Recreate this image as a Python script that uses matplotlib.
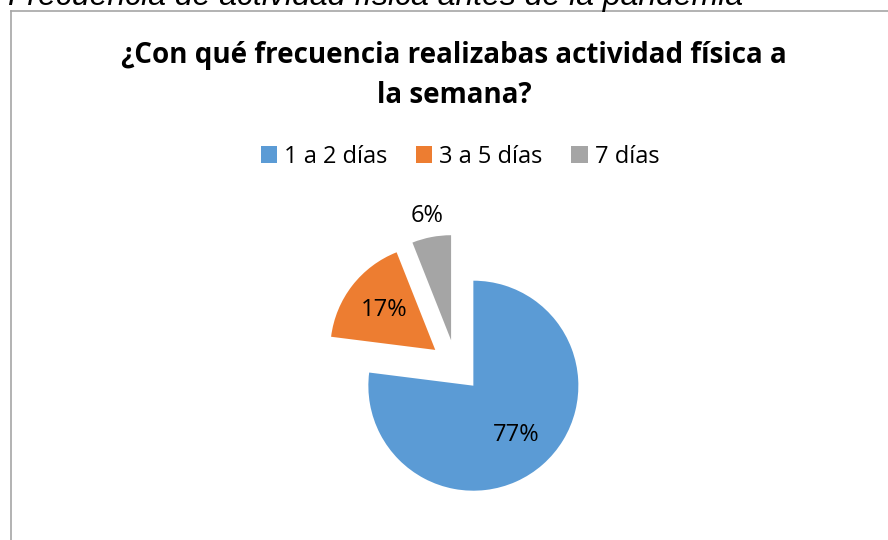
import numpy as np
import matplotlib
matplotlib.use('Agg')
import matplotlib.pyplot as plt
from matplotlib.lines import Line2D

# data
categories = ['1 a 2 días', '3 a 5 días', '7 días']
values = [77, 17, 6]
colors = ['#5B9BD5', '#ED7D31', '#A5A5A5']
title_lines = ['¿Con qué frecuencia realizabas actividad física a', 'la semana?']
caption = 'Frecuencia de actividad física antes de la pandemia'

W, H = 888, 540
FONT = 'Open Sans'
fig = plt.figure(figsize=(W / 100, H / 100), dpi=100)

# chart frame (runs off the right and bottom edges)
fig.add_artist(Line2D([10.5 / W, 1.0], [1 - 11 / H, 1 - 11 / H], color='#a6a6a6', lw=1.2))
fig.add_artist(Line2D([10.5 / W, 10.5 / W], [0.0, 1 - 11 / H], color='#a6a6a6', lw=1.2))

# caption above the chart, mostly cut off by the top edge
fig.text(8 / W, 1 - 4.5 / H, caption, fontsize=23, style='italic',
         family='Liberation Sans', ha='left', va='baseline', color='black')

fig.text(454 / W, 1 - 63 / H, title_lines[0], fontsize=20, fontweight='bold', family=FONT,
         ha='center', va='baseline', color='black')
fig.text(454 / W, 1 - 103 / H, title_lines[1], fontsize=20, fontweight='bold', family=FONT,
         ha='center', va='baseline', color='black')

# pie: centre at (456, 366) px, radius 105 px
cx, cy, r = 456, 366, 105
lim = 1.5
side = 2 * lim * r
ax = fig.add_axes([(cx - side / 2) / W, (H - cy - side / 2) / H, side / W, side / H])
wedges, texts, autotexts = ax.pie(values, colors=colors, startangle=90, counterclock=False,
                                  explode=[0.25, 0.25, 0.25], radius=1,
                                  autopct='%1.0f%%', pctdistance=0.62,
                                  textprops=dict(fontsize=17, family=FONT, color='black'))
ax.set_xlim(-lim, lim)
ax.set_ylim(-lim, lim)
ax.axis('off')

# small slice label sits outside its wedge
w = wedges[2]
th = np.deg2rad((w.theta1 + w.theta2) / 2)
autotexts[2].set_position((w.center[0] + 1.2 * np.cos(th), w.center[1] + 1.2 * np.sin(th)))

fig.legend(wedges, categories, loc='center', bbox_to_anchor=(460 / W, 1 - 157 / H), ncol=3,
           frameon=False, handlelength=0.7, handleheight=0.7, handletextpad=0.3,
           columnspacing=1.2, prop=dict(family=FONT, size=17))

fig.savefig('out.png', dpi=100)
